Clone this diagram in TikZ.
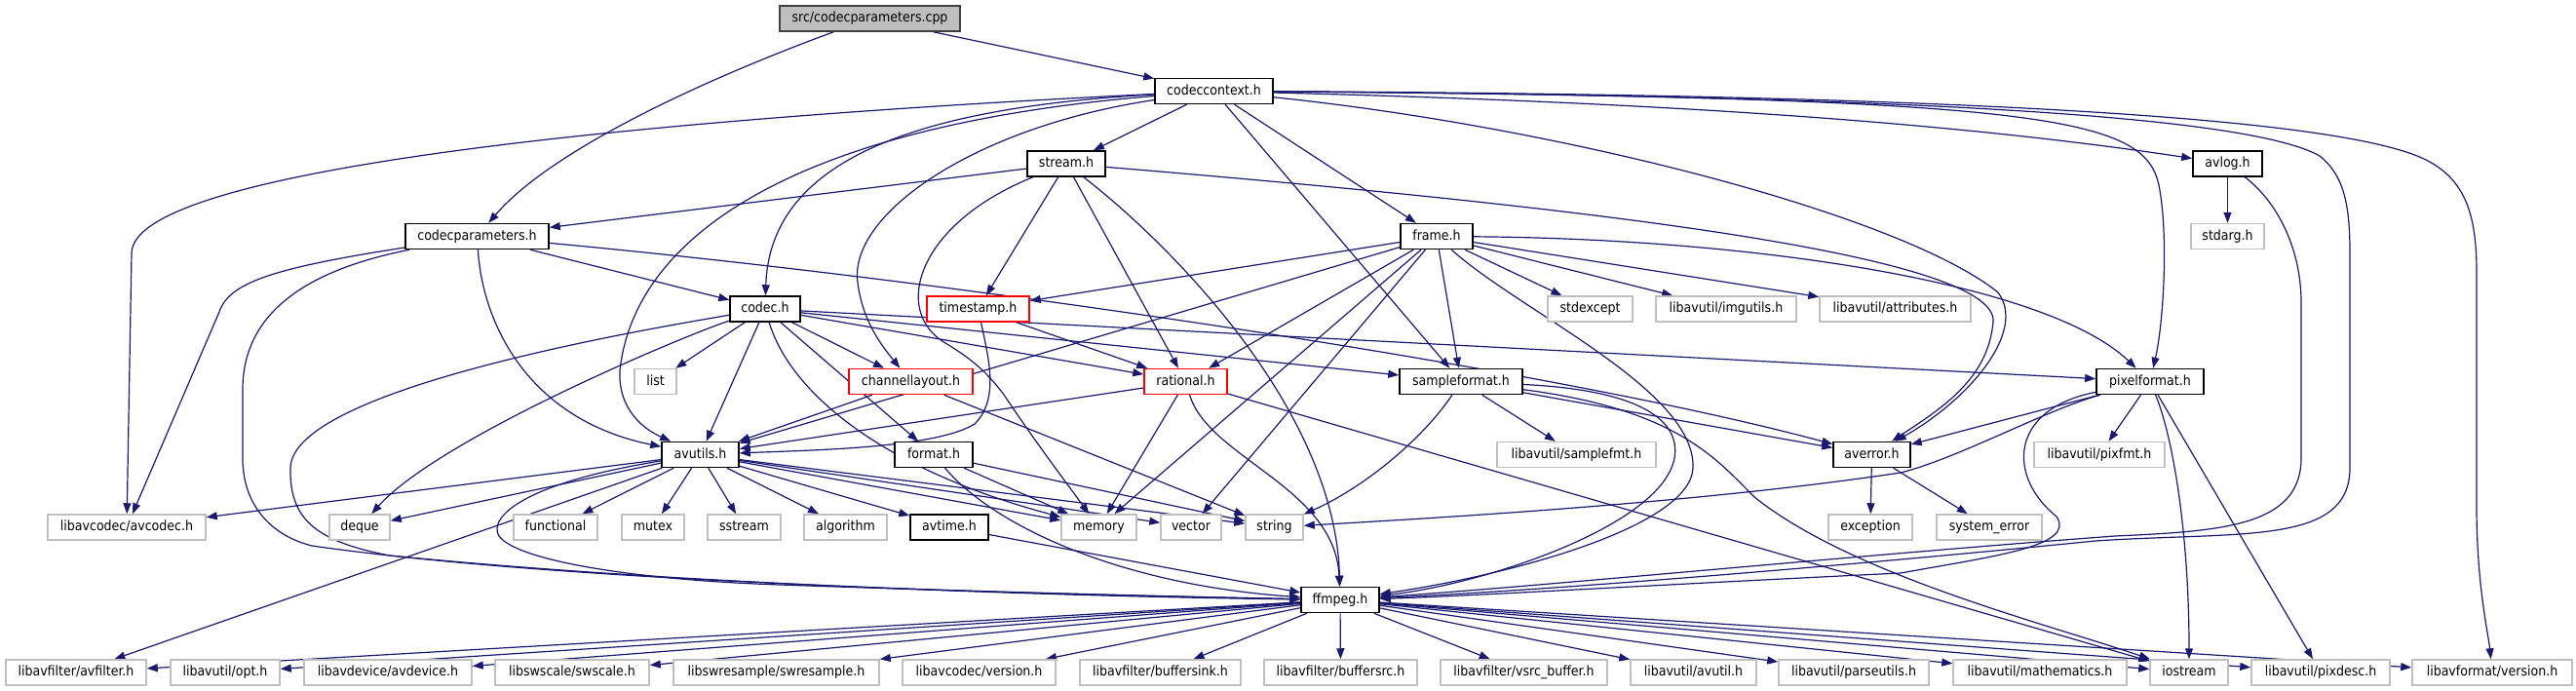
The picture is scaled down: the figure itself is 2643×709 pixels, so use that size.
\documentclass[tikz,border=0pt]{standalone}
\usepackage{fontspec}
\setmainfont{DejaVu Sans Condensed}
\usetikzlibrary{arrows.meta}
\definecolor{edgec}{HTML}{191970}
\definecolor{sysc}{HTML}{BFBFBF}
\pgfdeclarelayer{bg}
\pgfsetlayers{bg,main}
\begin{document}
\begin{tikzpicture}[x=1pt,y=-1pt,
 box/.style={draw, line width=1.5pt, inner sep=0pt, minimum height=26pt, text height=10.5pt, text depth=3pt, font=\fontsize{14}{16}\selectfont, fill=white},
 hdr/.style={box, draw=black},
 redb/.style={box, draw=red},
 sys/.style={box, draw=sysc},
 src/.style={box, draw=black!75, fill=sysc},
 e/.style={draw=edgec, line width=1.2pt, -{Triangle[length=11pt,width=8pt]}}]
\useasboundingbox (0,0) rectangle (2643,709);
% row 0-1
\node[src,minimum width=185pt] (cpp) at (892.5,19) {src/codecparameters.cpp};
\node[hdr,minimum width=121pt] (cc) at (1245.5,93.5) {codeccontext.h};
% row 2
\node[hdr,minimum width=80pt] (stream) at (1094,168) {stream.h};
\node[hdr,minimum width=71pt] (avlog) at (2285.5,168) {avlog.h};
% row 3
\node[hdr,minimum width=147pt] (cp) at (489.5,242.5) {codecparameters.h};
\node[hdr,minimum width=74pt] (frame) at (1474,242.5) {frame.h};
\node[sys,minimum width=75pt] (stdarg) at (2285.5,242.5) {stdarg.h};
% row 4
\node[hdr,minimum width=72pt] (codec) at (785,317) {codec.h};
\node[redb,minimum width=105pt] (ts) at (1003.5,317) {timestamp.h};
\node[sys,minimum width=87pt] (stdexcept) at (1631.5,317) {stdexcept};
\node[sys,minimum width=144pt] (imgutils) at (1771,317) {libavutil/imgutils.h};
\node[sys,minimum width=155pt] (attributes) at (1944.5,317) {libavutil/attributes.h};
% row 5
\node[sys,minimum width=43pt] (list) at (672.5,391.5) {list};
\node[redb,minimum width=127pt] (chl) at (934.5,391.5) {channellayout.h};
\node[redb,minimum width=85pt] (rational) at (1216.5,391.5) {rational.h};
\node[hdr,minimum width=126pt] (sf) at (1499,391.5) {sampleformat.h};
\node[hdr,minimum width=110pt] (pf) at (2206,391.5) {pixelformat.h};
% row 6
\node[hdr,minimum width=79pt] (avutils) at (718.5,466.5) {avutils.h};
\node[hdr,minimum width=80pt] (format) at (958,466.5) {format.h};
\node[sys,minimum width=163pt] (samplefmt) at (1617.5,466.5) {libavutil/samplefmt.h};
\node[hdr,minimum width=79pt] (averror) at (1920.5,466.5) {averror.h};
\node[sys,minimum width=134pt] (pixfmt) at (2154,466.5) {libavutil/pixfmt.h};
% row 7
\node[sys,minimum width=162pt] (avcodec) at (130,541) {libavcodec/avcodec.h};
\node[sys,minimum width=62pt] (deque) at (369,541) {deque};
\node[sys,minimum width=86pt] (functional) at (570,541) {functional};
\node[sys,minimum width=64pt] (mutex) at (670,541) {mutex};
\node[sys,minimum width=75pt] (sstream) at (763.5,541) {sstream};
\node[sys,minimum width=85pt] (algorithm) at (867.5,541) {algorithm};
\node[hdr,minimum width=80pt] (avtime) at (974,541) {avtime.h};
\node[sys,minimum width=77pt] (memory) at (1127.5,541) {memory};
\node[sys,minimum width=62pt] (vector) at (1222,541) {vector};
\node[sys,minimum width=59pt] (string) at (1307.5,541) {string};
\node[sys,minimum width=86pt] (exception) at (1919,541) {exception};
\node[sys,minimum width=108pt] (syserr) at (2041,541) {system\_error};
% row 8
\node[hdr,minimum width=80pt] (ffmpeg) at (1375,615.5) {ffmpeg.h};
% row 9
\node[sys,minimum width=144pt] (avfilter) at (78,690) {libavfilter/avfilter.h};
\node[sys,minimum width=112pt] (opt) at (231,690) {libavutil/opt.h};
\node[sys,minimum width=172pt] (avdevice) at (398,690) {libavdevice/avdevice.h};
\node[sys,minimum width=158pt] (swscale) at (587,690) {libswscale/swscale.h};
\node[sys,minimum width=211pt] (swresample) at (796.5,690) {libswresample/swresample.h};
\node[sys,minimum width=157pt] (avcver) at (1004.5,690) {libavcodec/version.h};
\node[sys,minimum width=165pt] (buffersink) at (1190.5,690) {libavfilter/buffersink.h};
\node[sys,minimum width=157pt] (buffersrc) at (1375.5,690) {libavfilter/buffersrc.h};
\node[sys,minimum width=171pt] (vsrc) at (1563.5,690) {libavfilter/vsrc\_buffer.h};
\node[sys,minimum width=129pt] (avutil) at (1737.5,690) {libavutil/avutil.h};
\node[sys,minimum width=154pt] (parseutils) at (1902,690) {libavutil/parseutils.h};
\node[sys,minimum width=178pt] (mathematics) at (2093,690) {libavutil/mathematics.h};
\node[sys,minimum width=80pt] (iostream) at (2246,690) {iostream};
\node[sys,minimum width=142pt] (pixdesc) at (2381,690) {libavutil/pixdesc.h};
\node[sys,minimum width=164pt] (avfver) at (2557,690) {libavformat/version.h};

\begin{pgfonlayer}{bg}
% ---- edges: straight
\foreach \a/\b in {cpp/cc, cc/stream, cc/frame, cc/sf, stream/cp, stream/ts, stream/rational,
  cp/codec, frame/ts, frame/stdexcept, frame/imgutils, frame/attributes, frame/avutils,
  frame/rational, frame/memory, frame/vector, frame/sf, sf/averror, sf/samplefmt,
  rational/avutils, rational/memory, rational/iostream, ts/rational, chl/avutils, chl/string,
  codec/list, codec/chl, codec/avutils, codec/rational, codec/sf, codec/pf, codec/format,
  format/memory, format/string, avtime/ffmpeg,
  avutils/avcodec, avutils/deque, avutils/functional, avutils/mutex, avutils/sstream,
  avutils/algorithm, avutils/avtime, avutils/memory, avutils/vector, avutils/string, avutils/avfilter,
  avlog/stdarg, pf/averror, pf/pixfmt, pf/pixdesc, averror/exception, averror/syserr,
  ffmpeg/avfilter, ffmpeg/opt, ffmpeg/avdevice, ffmpeg/swscale, ffmpeg/swresample, ffmpeg/avcver,
  ffmpeg/buffersink, ffmpeg/buffersrc, ffmpeg/vsrc, ffmpeg/avutil, ffmpeg/parseutils,
  ffmpeg/mathematics, ffmpeg/iostream, ffmpeg/pixdesc, ffmpeg/avfver}
  \draw[e] (\a) -- (\b);

% ---- edges: curved
\draw[e] (cpp) .. controls (700,90) and (560,160) .. (cp);
\draw[e] (cc) .. controls (1700,105) and (2000,125) .. (avlog);
\draw[e] (cc) .. controls (2100,100) and (2200,120) .. (2215,190) .. controls (2225,240) and (2220,330) .. (pf);
\draw[e] (cc) .. controls (1900,98) and (2300,115) .. (2380,160) .. controls (2405,180) and (2411,210) .. (2411,260) -- (2411,480) .. controls (2411,560) and (2300,545) .. (2150,555) .. controls (1900,580) and (1600,605) .. (ffmpeg);
\draw[e] (avlog) .. controls (2340,210) and (2361,260) .. (2361,310) -- (2361,470) .. controls (2361,540) and (2280,545) .. (2170,550) .. controls (1900,570) and (1600,600) .. (ffmpeg);
\draw[e] (cc) .. controls (2000,97) and (2380,120) .. (2480,160) .. controls (2530,180) and (2541,220) .. (2541,280) -- (2541,520) .. controls (2541,600) and (2553,650) .. (avfver);
\draw[e] (cc) .. controls (1600,130) and (1950,220) .. (2050,300) .. controls (2080,340) and (2020,410) .. (averror);
\draw[e] (cc) .. controls (950,110) and (790,160) .. (codec);
\draw[e] (cc) .. controls (800,130) and (650,250) .. (636,380) .. controls (634,420) and (660,440) .. (avutils);
\draw[e] (cc) .. controls (1000,130) and (870,220) .. (880,290) .. controls (885,330) and (905,355) .. (chl);
\draw[e] (cc) .. controls (700,120) and (135,170) .. (135,260) -- (avcodec);
\draw[e] (stream) .. controls (940,230) and (915,320) .. (970,352) .. controls (1000,370) and (1015,385) .. (1030,405) .. controls (1060,450) and (1090,490) .. (memory);
\draw[e] (stream) .. controls (1200,250) and (1370,420) .. (ffmpeg);
\draw[e] (stream) .. controls (1600,210) and (2050,260) .. (2045,330) .. controls (2040,390) and (1990,420) .. (averror);
\draw[e] (cp) .. controls (495,330) and (540,430) .. (avutils);
\draw[e] (cp) .. controls (280,275) and (235,290) .. (225,320) -- (avcodec);
\draw[e] (cp) .. controls (300,280) and (249,330) .. (249,400) -- (249,470) .. controls (249,520) and (280,550) .. (320,560) .. controls (600,600) and (1100,610) .. (ffmpeg);
\draw[e] (cp) .. controls (1000,290) and (1600,380) .. (averror);
\draw[e] (frame) .. controls (1800,245) and (2100,290) .. (pf);
\draw[e] (frame) .. controls (1560,320) and (1740,400) .. (1737,480) .. controls (1735,540) and (1550,590) .. (ffmpeg);
\draw[e] (sf) .. controls (1680,400) and (1725,430) .. (1718,470) .. controls (1705,540) and (1520,600) .. (ffmpeg);
\draw[e] (sf) .. controls (1460,450) and (1400,500) .. (string);
\draw[e] (sf) .. controls (1720,420) and (1760,470) .. (1800,510) .. controls (1900,590) and (2100,640) .. (iostream);
\draw[e] (rational) .. controls (1240,470) and (1370,500) .. (ffmpeg);
\draw[e] (ts) .. controls (1015,370) and (1025,410) .. (1000,435) .. controls (960,460) and (830,462) .. (avutils);
\draw[e] (codec) .. controls (810,400) and (900,480) .. (memory);
\draw[e] (codec) .. controls (700,345) and (450,450) .. (deque);
\draw[e] (codec) .. controls (650,340) and (300,400) .. (298,480) .. controls (297,530) and (320,555) .. (400,570) .. controls (700,600) and (1100,612) .. (ffmpeg);
\draw[e] (format) .. controls (1020,540) and (1150,600) .. (ffmpeg);
\draw[e] (avutils) .. controls (540,495) and (500,530) .. (512,550) .. controls (530,575) and (650,595) .. (800,600) .. controls (1000,607) and (1200,612) .. (ffmpeg);
\draw[e] (pf) .. controls (2060,420) and (2060,490) .. (2110,530) .. controls (2130,560) and (2050,570) .. (1950,588) .. controls (1700,600) and (1500,612) .. (ffmpeg);
\draw[e] (pf) .. controls (2100,420) and (2010,470) .. (1950,485) .. controls (1750,515) and (1500,530) .. (string);
\draw[e] (pf) .. controls (2230,450) and (2246,550) .. (iostream);
\end{pgfonlayer}
\end{tikzpicture}
\end{document}
